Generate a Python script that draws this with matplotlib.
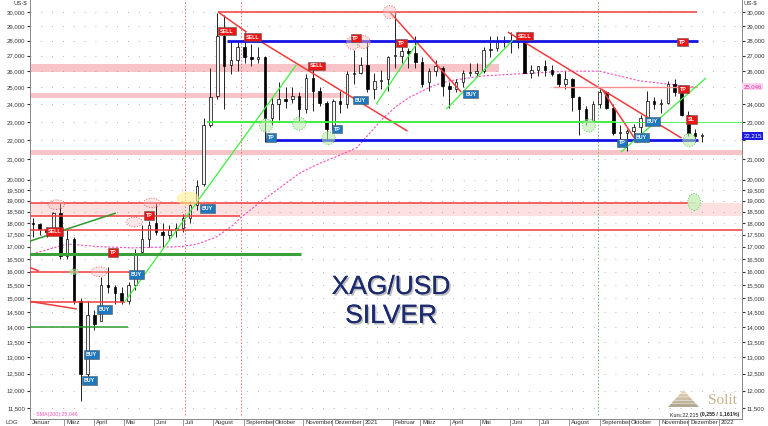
#-*- coding: utf-8 -*-
#==============================================================================
#- XAG/USD Silber: Kerzen (wochentlich), SMA(200), Trendlinien und Signale
#==============================================================================
import numpy as np
import pandas as pd
import matplotlib
matplotlib.use('Agg')
import matplotlib.pyplot as plt
import matplotlib.ticker as mticker
import matplotlib.patheffects as pe
from matplotlib.path import Path
from matplotlib.patches import Polygon
from matplotlib.transforms import blended_transform_factory, Affine2D

plt.rcParams['font.family'] = ['Liberation Sans', 'DejaVu Sans']

#==============================================================================
#- Datos
#==============================================================================
semanas = pd.date_range('2020-01-27', periods=99, freq='7D')
apertura = [18.0, 17.95, 17.75, 17.6, 18.45, 16.6, 17.3, 14.9, 12.5, 14.4,
            14.2, 15.5, 15.4, 15.2, 14.9, 15.5, 16.8, 17.3, 18.0, 17.6,
            17.5, 17.7, 17.8, 18.2, 18.8, 19.8, 22.8, 24.5, 28.3, 26.4,
            26.7, 27.6, 26.9, 26.8, 26.9, 23.2, 24.0, 24.3, 24.3, 24.5,
            23.7, 25.6, 24.8, 24.1, 22.6, 24.2, 24.0, 25.8, 25.9, 26.4,
            24.9, 25.4, 25.5, 27.0, 27.0, 27.3, 27.2, 26.6, 25.3, 26.0,
            26.2, 25.1, 24.9, 25.3, 25.9, 25.9, 26.0, 27.4, 27.5, 27.9,
            28.0, 27.9, 28.0, 25.9, 26.1, 26.3, 26.1, 25.8, 25.2, 25.5,
            24.4, 23.7, 23.0, 24.0, 24.7, 23.8, 22.4, 22.4, 22.5, 22.7,
            23.2, 24.2, 24.0, 24.1, 25.2, 24.7, 23.4, 22.4, 22.2]
maximo = [18.2, 18.0, 17.85, 18.5, 18.9, 17.7, 17.4, 15.0, 14.9, 14.6,
          15.8, 16.2, 15.5, 15.4, 15.6, 16.9, 17.9, 18.1, 18.9, 18.0,
          17.9, 18.0, 18.4, 19.0, 20.0, 23.2, 26.2, 29.9, 29.8, 28.0,
          28.0, 28.6, 27.8, 27.6, 27.0, 24.4, 25.3, 25.0, 25.0, 24.7,
          25.8, 26.2, 25.0, 24.2, 24.3, 24.8, 26.0, 27.4, 26.9, 27.9,
          25.9, 26.1, 27.0, 30.1, 27.9, 27.5, 28.3, 26.9, 26.2, 26.7,
          26.3, 25.3, 25.5, 26.1, 26.5, 26.5, 27.6, 28.3, 28.3, 28.3,
          28.6, 28.4, 28.3, 26.4, 26.3, 26.7, 26.4, 25.9, 26.0, 25.6,
          24.5, 23.9, 24.2, 24.9, 24.8, 24.0, 22.8, 22.6, 22.9, 23.4,
          24.8, 24.4, 24.3, 25.4, 25.5, 25.0, 23.6, 22.6, 22.4]
minimo = [17.4, 17.5, 17.4, 17.55, 16.5, 16.5, 14.8, 11.7, 12.3, 13.9,
          14.2, 15.2, 14.8, 14.8, 14.8, 15.3, 16.7, 17.0, 17.5, 17.0,
          17.3, 17.4, 17.6, 18.0, 18.6, 19.7, 22.7, 24.3, 23.7, 25.8,
          26.0, 26.5, 26.3, 26.5, 21.9, 22.8, 23.1, 23.8, 24.1, 23.0,
          23.5, 23.6, 23.9, 22.0, 22.5, 23.5, 23.8, 25.2, 25.8, 24.7,
          24.3, 24.9, 24.8, 26.2, 26.5, 26.2, 26.2, 25.0, 24.8, 25.7,
          24.5, 23.8, 24.7, 25.0, 25.7, 25.7, 25.9, 26.9, 27.3, 27.6,
          27.2, 27.5, 25.9, 25.6, 25.7, 25.7, 25.7, 25.0, 24.9, 23.6,
          22.3, 22.8, 23.0, 23.8, 23.7, 22.3, 21.9, 21.45, 22.2, 22.3,
          23.2, 23.7, 23.5, 24.0, 24.5, 23.3, 22.2, 21.9, 21.9]
cierre = [17.95, 17.75, 17.6, 18.45, 16.6, 17.3, 14.9, 12.5, 14.4, 14.1,
          15.5, 15.4, 15.2, 14.9, 15.5, 16.7, 17.3, 17.9, 17.6, 17.5,
          17.7, 17.8, 18.2, 18.8, 19.7, 22.8, 24.4, 28.3, 26.3, 26.7,
          27.6, 26.9, 26.8, 26.9, 23.2, 24.0, 24.3, 24.2, 24.5, 23.7,
          25.6, 24.8, 24.1, 22.6, 24.2, 24.0, 25.8, 25.8, 26.4, 24.9,
          25.4, 25.4, 26.9, 27.0, 27.3, 27.2, 26.6, 25.2, 26.0, 26.3,
          25.1, 24.9, 25.3, 25.9, 25.9, 26.0, 27.4, 27.4, 27.9, 28.0,
          27.9, 28.0, 25.9, 26.1, 26.3, 26.1, 25.8, 25.2, 25.5, 24.4,
          23.7, 23.0, 24.0, 24.7, 23.8, 22.4, 22.4, 22.5, 22.7, 23.2,
          24.2, 24.0, 24.1, 25.2, 24.7, 23.4, 22.4, 22.2, 22.215]

#- SMA(200)
sma_fechas = ['2020-01-28', '2020-03-04', '2020-04-06', '2020-05-10', '2020-06-28',
              '2020-07-15', '2020-08-04', '2020-08-21', '2020-08-28', '2020-09-17',
              '2020-10-08', '2020-10-28', '2020-11-18', '2020-12-08', '2020-12-26',
              '2021-01-22', '2021-02-05', '2021-02-18', '2021-03-14', '2021-03-31',
              '2021-05-04', '2021-06-01', '2021-07-29', '2021-09-01', '2021-10-12',
              '2021-12-10']
sma_valores = [16.7, 17.11, 17.0, 16.95, 17.0, 17.1, 17.4, 17.9, 18.2, 18.9,
               19.6, 20.3, 20.8, 21.2, 21.6, 23.2, 23.9, 24.4, 25.1, 25.4,
               25.7, 25.8, 26.0, 26.0, 25.4, 25.0]

#- Lineas (fecha1, precio1, fecha2, precio2)
inicio = '2020-01-20'
fin = '2022-01-30'
lineas_rojas = [('2020-08-06', 30.0, '2021-12-10', 30.0),
                ('2020-08-06', 30.0, '2020-09-04', 28.58),
                ('2020-09-11', 28.24, '2021-02-16', 22.49),
                ('2021-01-29', 30.0, '2021-04-12', 24.72),
                ('2021-05-30', 28.58, '2021-11-24', 22.11),
                ('2021-09-04', 24.84, '2021-10-10', 21.85),
                (inicio, 18.9, '2021-12-09', 18.9),
                (inicio, 18.3, '2020-08-28', 18.3),
                (inicio, 17.7, fin, 17.7),
                (inicio, 16.0, '2020-05-07', 16.0),
                (inicio, 16.25, '2020-02-04', 16.03),
                (inicio, 14.85, '2020-05-02', 14.85),
                (inicio, 14.92, '2020-03-14', 14.62)]
lineas_rosas = [('2021-07-15', 25.0, '2021-12-10', 25.0)]
lineas_azules = [('2020-08-15', 28.0, '2021-12-11', 28.0),
                 ('2020-09-23', 22.0, '2021-12-11', 22.0)]
lineas_lima = [('2020-05-02', 14.87, '2020-10-25', 26.39),
               ('2021-01-15', 24.0, '2021-02-26', 27.83),
               ('2021-03-28', 23.72, '2021-06-04', 28.03),
               ('2021-09-23', 21.38, '2021-12-19', 25.57)]
lima_horizontal = ('2020-07-27', '2021-09-17', 23.0)
lima_fina = ('2021-09-17', fin, 23.0)
lineas_verdes = [(inicio, 16.7, '2020-10-30', 16.7)]
lineas_verdes_finas = [(inicio, 14.0, '2020-05-05', 14.0),
                       (inicio, 17.15, '2020-04-23', 18.44)]

#- Bandas (fecha1, fecha2, precio_min, precio_max)
bandas = [(inicio, '2021-05-21', 25.95, 26.45),
          (inicio, '2020-12-13', 24.38, 24.64),
          (inicio, fin, 21.22, 21.48)]
banda_clara = (inicio, fin, 18.3, 18.9)

#- Lineas verticales punteadas
verticales_rojas = ['2020-07-03', '2020-08-29']
verticales_verdes = ['2021-08-30']

#- Senales (texto, fecha, precio)
senales_rojas = [('SELL', '2020-08-15', 28.65), ('SELL', '2020-09-10', 28.24),
                 ('SELL', '2020-11-15', 26.33), ('TP', '2020-12-25', 28.17),
                 ('TP', '2021-02-10', 27.83), ('SELL', '2021-06-16', 28.31),
                 ('TP', '2021-11-25', 27.9), ('TP', '2021-11-26', 24.9),
                 ('SL', '2021-12-04', 23.11), ('SELL', '2020-02-20', 17.65),
                 ('TP', '2020-05-27', 18.33), ('TP', '2020-04-20', 16.75)]
senales_azules = [('BUY', '2020-12-30', 24.24), ('TP', '2020-09-29', 22.16),
                  ('TP', '2020-12-06', 22.6), ('BUY', '2021-04-22', 24.6),
                  ('BUY', '2021-10-25', 23.0), ('BUY', '2021-10-14', 22.16),
                  ('TP', '2021-09-24', 21.85), ('BUY', '2020-07-26', 18.65),
                  ('BUY', '2020-05-14', 15.88), ('BUY', '2020-04-11', 14.6),
                  ('BUY', '2020-03-29', 13.1), ('BUY', '2020-03-27', 12.3)]

#- Circulos (fecha, precio)
circulos_rojos = [('2020-12-22', 27.83), ('2021-01-02', 27.9), ('2021-01-29', 30.0)]
elipses_rojas = [('2020-02-22', 18.82), ('2020-04-06', 16.0),
                 ('2020-05-12', 18.04), ('2020-05-30', 18.9)]
circulos_verdes = [('2020-09-24', 22.8), ('2020-10-28', 22.9), ('2020-11-27', 22.11),
                   ('2021-08-21', 22.8), ('2021-12-02', 22.0)]
elipse_verde_alta = ('2021-12-07', 18.94)
elipse_verde_chica = ('2020-03-11', 16.0)
circulo_amarillo = ('2020-07-06', 19.1)

#- Ejes
yticks = [30, 29, 28, 27, 26, 25, 24, 23, 22, 21, 20, 19.5, 19, 18.5, 18, 17.5,
          17, 16.5, 16, 15.5, 15, 14.5, 14, 13.5, 13, 12.5, 12, 11.5]
meses_fechas = ['2020-01-26', '2020-03-01', '2020-04-01', '2020-05-01', '2020-06-01',
                '2020-07-01', '2020-08-01', '2020-09-01', '2020-10-01', '2020-11-01',
                '2020-12-01', '2021-01-01', '2021-02-01', '2021-03-01', '2021-04-01',
                '2021-05-01', '2021-06-01', '2021-07-01', '2021-08-01', '2021-09-01',
                '2021-10-01', '2021-11-01', '2021-12-01', '2022-01-01']
meses = ['Januar', 'März', 'April', 'Mai', 'Juni', 'Juli', 'August', 'September',
         'Oktober', 'November', 'Dezember', '2021', 'Februar', 'März', 'April', 'Mai',
         'Juni', 'Juli', 'August', 'September', 'Oktober', 'November', 'Dezember', '2022']
ultimo = 22.215
sma_ultimo = 25.046

#==============================================================================
#- Figura
#==============================================================================
fig = plt.figure(figsize=(7.68, 4.26), dpi=100)
ax = fig.add_axes([30/768, 7/426, 712/768, 419/426])
ax.set_yscale('log')
ax.set_ylim(11.20, 30.89)
ax.set_xlim(pd.Timestamp('2020-01-26'), pd.Timestamp('2022-01-25'))
T = pd.Timestamp

#- bandas
for f1, f2, p1, p2 in bandas:
    ax.fill_between([T(f1), T(f2)], p1, p2, color='#f8c4c8', lw=0, zorder=1)
f1, f2, p1, p2 = banda_clara
ax.fill_between([T(f1), T(f2)], p1, p2, color='#fde0e0', lw=0, zorder=1)

#- verticales
for f in verticales_rojas:
    ax.axvline(T(f), ymin=0.01, color='#ee7070', lw=0.7, ls=(0, (1.5, 2)), zorder=2)
for f in verticales_verdes:
    ax.axvline(T(f), ymin=0.01, color='#66bb66', lw=0.7, ls=(0, (1.5, 2)), zorder=2)

#- SMA(200)
ax.plot(pd.to_datetime(sma_fechas), sma_valores, color='#f050c0', lw=0.8,
        ls=(0, (2, 1.5)), zorder=3)

#- velas
x_vela = semanas + pd.Timedelta(days=2)
for xv, o, h, l, c in zip(x_vela, apertura, maximo, minimo, cierre):
    ax.vlines(xv, l, h, color='#222222', lw=0.7, zorder=4)
    cuerpo = '#f4f4f4' if c >= o else 'black'
    alto = max(abs(c - o), 0.06)
    ax.bar(xv, alto, bottom=min(o, c), width=2.6, color=cuerpo,
           edgecolor='black', lw=0.5, zorder=5)

#- lineas
def dibujar(lista, color, lw):
    for f1, p1, f2, p2 in lista:
        ax.plot([T(f1), T(f2)], [p1, p2], color=color, lw=lw, zorder=6,
                solid_capstyle='butt')

dibujar(lineas_rojas, '#f03c3c', 1.1)
dibujar(lineas_rosas, '#f59090', 1.0)
dibujar(lineas_azules, '#1414e6', 2.0)
dibujar(lineas_lima, '#3cf03c', 0.9)
dibujar(lineas_verdes, '#3aa03a', 2.2)
dibujar(lineas_verdes_finas, '#2e9a2e', 1.1)
ax.plot([T(lima_horizontal[0]), T(lima_horizontal[1])], [lima_horizontal[2]] * 2,
        color='#3cf03c', lw=1.4, zorder=6)
ax.plot([T(lima_fina[0]), T(lima_fina[1])], [lima_fina[2]] * 2,
        color='#3cf03c', lw=0.6, zorder=6)

#- circulos y elipses
elipse = Path(Affine2D().scale(1.7, 1.0).transform(Path.unit_circle().vertices),
              Path.unit_circle().codes)
elipse_v = Path(Affine2D().scale(0.75, 1.0).transform(Path.unit_circle().vertices),
                Path.unit_circle().codes)

def circulos(lista, marker, s, fc, ec):
    ax.scatter([T(f) for f, p in lista], [p for f, p in lista], s=s, marker=marker,
               facecolor=fc, edgecolor=ec, linewidths=0.7, linestyles=':', zorder=7)

circulos(circulos_rojos, 'o', 90, (0.97, 0.75, 0.75, 0.45), '#e07070')
circulos(elipses_rojas, elipse, 140, (0.97, 0.75, 0.75, 0.35), '#e07070')
circulos(circulos_verdes, 'o', 90, (0.70, 0.92, 0.65, 0.55), '#6cc46c')
circulos([elipse_verde_alta], elipse_v, 150, (0.80, 0.95, 0.75, 0.9), '#6cc46c')
circulos([elipse_verde_chica], elipse, 45, (0.70, 0.92, 0.65, 0.6), '#6cc46c')
circulos([circulo_amarillo], elipse, 260, (1.0, 0.93, 0.55, 0.6), (1.0, 0.9, 0.5, 0.6))

#- senales
def senales(lista, fc):
    for txt, f, p in lista:
        ax.text(T(f), p, txt, ha='center', va='center', fontsize=3.8,
                color='white', fontweight='bold', zorder=9,
                bbox=dict(boxstyle='square,pad=0.35', fc=fc, ec='#555555', lw=0.4))

senales(senales_rojas, '#ee1515')
senales(senales_azules, '#1f78be')

#- ejes
ax.set_yticks(yticks)
ax.yaxis.set_minor_locator(mticker.NullLocator())
ax.yaxis.set_major_formatter(mticker.FuncFormatter(lambda v, pos: f'{v:.3f}'.replace('.', ',')))
ax.tick_params(axis='y', which='both', left=True, right=True, labelleft=True,
               labelright=True, labelsize=4.3, length=2, pad=1.5,
               colors='#333333')
ax.grid(axis='y', color='#9a9a9a', lw=0.6, ls=(0, (1, 12)))
ax.set_xticks(pd.to_datetime(meses_fechas[1:]))
ax.set_xticklabels([])
ax.tick_params(axis='x', length=7, width=0.6, color='#888888', direction='out')
for s in ['left', 'right', 'bottom']:
    ax.spines[s].set_color('#888888')
    ax.spines[s].set_linewidth(0.7)
ax.spines['top'].set_visible(False)

#- las cajas de valores tapan la etiqueta derecha de 25 y 22
for v, tick in zip(ax.get_yticks(), ax.yaxis.get_major_ticks()):
    if v in (25, 22):
        tick.label2.set_visible(False)

tr = blended_transform_factory(ax.transData, ax.transAxes)
for f, m in zip(meses_fechas, meses):
    ax.text(T(f) + pd.Timedelta(days=2), -0.003, m, transform=tr, ha='left',
            va='top', fontsize=4.3, color='#333333', clip_on=False)
fig.text(5/768, 1 - 423/426, 'LOG', fontsize=4.3, va='center', color='#333333')
fig.text(13/768, 1 - 3/426, 'US-$', fontsize=4.3, va='center', color='#333333')
fig.text(744/768, 1 - 3/426, 'US-$', fontsize=4.3, va='center', color='#333333')

#- valores en el eje derecho
tr2 = blended_transform_factory(ax.transAxes, ax.transData)
ax.text(1.002, sma_ultimo, f'{sma_ultimo:.3f}'.replace('.', ','), transform=tr2,
        ha='left', va='center', fontsize=4.3, color='#e030b0', clip_on=False, zorder=10,
        bbox=dict(boxstyle='square,pad=0.2', fc='#fbd5ec', ec='none'))
ax.text(1.002, ultimo, f'{ultimo:.3f}'.replace('.', ','), transform=tr2,
        ha='left', va='center', fontsize=4.3, color='white', clip_on=False, zorder=10,
        bbox=dict(boxstyle='square,pad=0.2', fc='#1a1ae0', ec='none'))

#- textos
ax.text(0.004, 0.004, '- SMA(200):' + f'{sma_ultimo:.3f}'.replace('.', ','),
        transform=ax.transAxes, fontsize=3.8, color='#f050c0', va='bottom')
negrita = ax.text(0.9955, 0.004, '(0,255 / 1,161%)', transform=ax.transAxes,
                  fontsize=3.8, fontweight='bold', ha='right', va='bottom', color='#222222')
ax.annotate('Kurs:22,215 ', xy=(0, 0), xycoords=negrita, ha='right', va='bottom',
            fontsize=3.8, color='#222222')

sombra = [pe.withSimplePatchShadow(offset=(1.2, -1.2), shadow_rgbFace='#777777', alpha=0.5),
          pe.Normal()]
ax.text(0.507, 0.315, 'XAG/USD', transform=ax.transAxes, ha='center', va='center',
        fontsize=19, color='#1c2a6e', path_effects=sombra, zorder=8)
ax.text(0.507, 0.246, 'SILVER', transform=ax.transAxes, ha='center', va='center',
        fontsize=19, color='#1c2a6e', path_effects=sombra, zorder=8)

#- logo
capas = 5
for i in range(capas):
    yb = 407 - i * 3.4
    yt = yb - 3.0
    mb = 15.5 * (1 - i / capas)
    mt = 15.5 * (1 - (i + 0.88) / capas)
    cx = 683.5
    tono = 0.55 + 0.08 * i
    col = (0.78 * tono + 0.2, 0.68 * tono + 0.2, 0.50 * tono + 0.2)
    pts = [((cx - mb) / 768, 1 - yb / 426), ((cx + mb) / 768, 1 - yb / 426),
           ((cx + mt) / 768, 1 - yt / 426), ((cx - mt) / 768, 1 - yt / 426)]
    fig.add_artist(Polygon(pts, closed=True, transform=fig.transFigure,
                           fc=col, ec='none', alpha=0.8))
fig.text(722/768, 1 - 401/426, 'Solit', family='Liberation Serif', fontsize=11,
         color='#c8b08a', ha='center', va='center')

fig.savefig('out.png', dpi=100)
